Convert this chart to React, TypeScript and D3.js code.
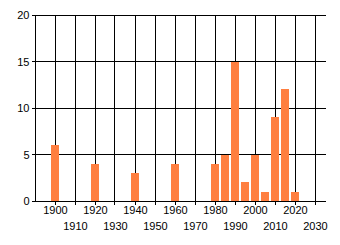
import React from "react";
import * as d3 from "d3";

const years = [1900, 1920, 1940, 1960, 1980, 1985, 1990, 1995, 2000, 2005, 2010, 2015, 2020];
const counts = [6, 4, 3, 4, 4, 5, 15, 2, 5, 1, 9, 12, 1];
const xTicks = [1900, 1910, 1920, 1930, 1940, 1950, 1960, 1970, 1980, 1990, 2000, 2010, 2020, 2030];
const yTicks = [0, 5, 10, 15, 20];

const W = 340;
const H = 245;
const left = 35;
const right = 325.5;
const top = 15;
const bottom = 201;

export default function App() {
  const x = d3.scaleLinear().domain([1890, 2035.25]).range([left, right]);
  const y = d3.scaleLinear().domain([0, 20]).range([bottom, top]);
  const px = (v: number) => Math.floor(v) + 0.5;
  const barW = 8;
  const font = "'Liberation Sans', Arial, sans-serif";

  return (
    <svg
      width={W}
      height={H}
      style={{ position: "absolute", left: 0, top: 0, background: "#fff" }}
      fontFamily={font}
      fontSize={11}
    >
      <g shapeRendering="crispEdges">
        {xTicks.map((t) => (
          <line
            key={"vx" + t}
            x1={px(x(t))}
            x2={px(x(t))}
            y1={top}
            y2={bottom + 4}
            stroke="#000"
            strokeWidth={1}
          />
        ))}
        {yTicks.map((t) => (
          <line
            key={"hy" + t}
            x1={left - 3}
            x2={right + 0.5}
            y1={px(y(t))}
            y2={px(y(t))}
            stroke="#000"
            strokeWidth={1}
          />
        ))}
        <line x1={px(left)} x2={px(left)} y1={top} y2={bottom + 1} stroke="#000" />
        {years.map((yr, i) => (
          <rect
            key={"b" + yr}
            x={x(yr) - barW / 2}
            y={y(counts[i])}
            width={barW}
            height={y(0) - y(counts[i])}
            fill="#FF7F40"
          />
        ))}
      </g>
      {xTicks.map((t, i) => (
        <text
          key={"xl" + t}
          x={x(t) + 0.5}
          y={i % 2 === 0 ? 214 : 230}
          textAnchor="middle"
          fill="#000"
        >
          {t}
        </text>
      ))}
      {yTicks.map((t) => (
        <text
          key={"yl" + t}
          x={29.5}
          y={y(t) + 4}
          textAnchor="end"
          fill="#000"
        >
          {t}
        </text>
      ))}
    </svg>
  );
}
